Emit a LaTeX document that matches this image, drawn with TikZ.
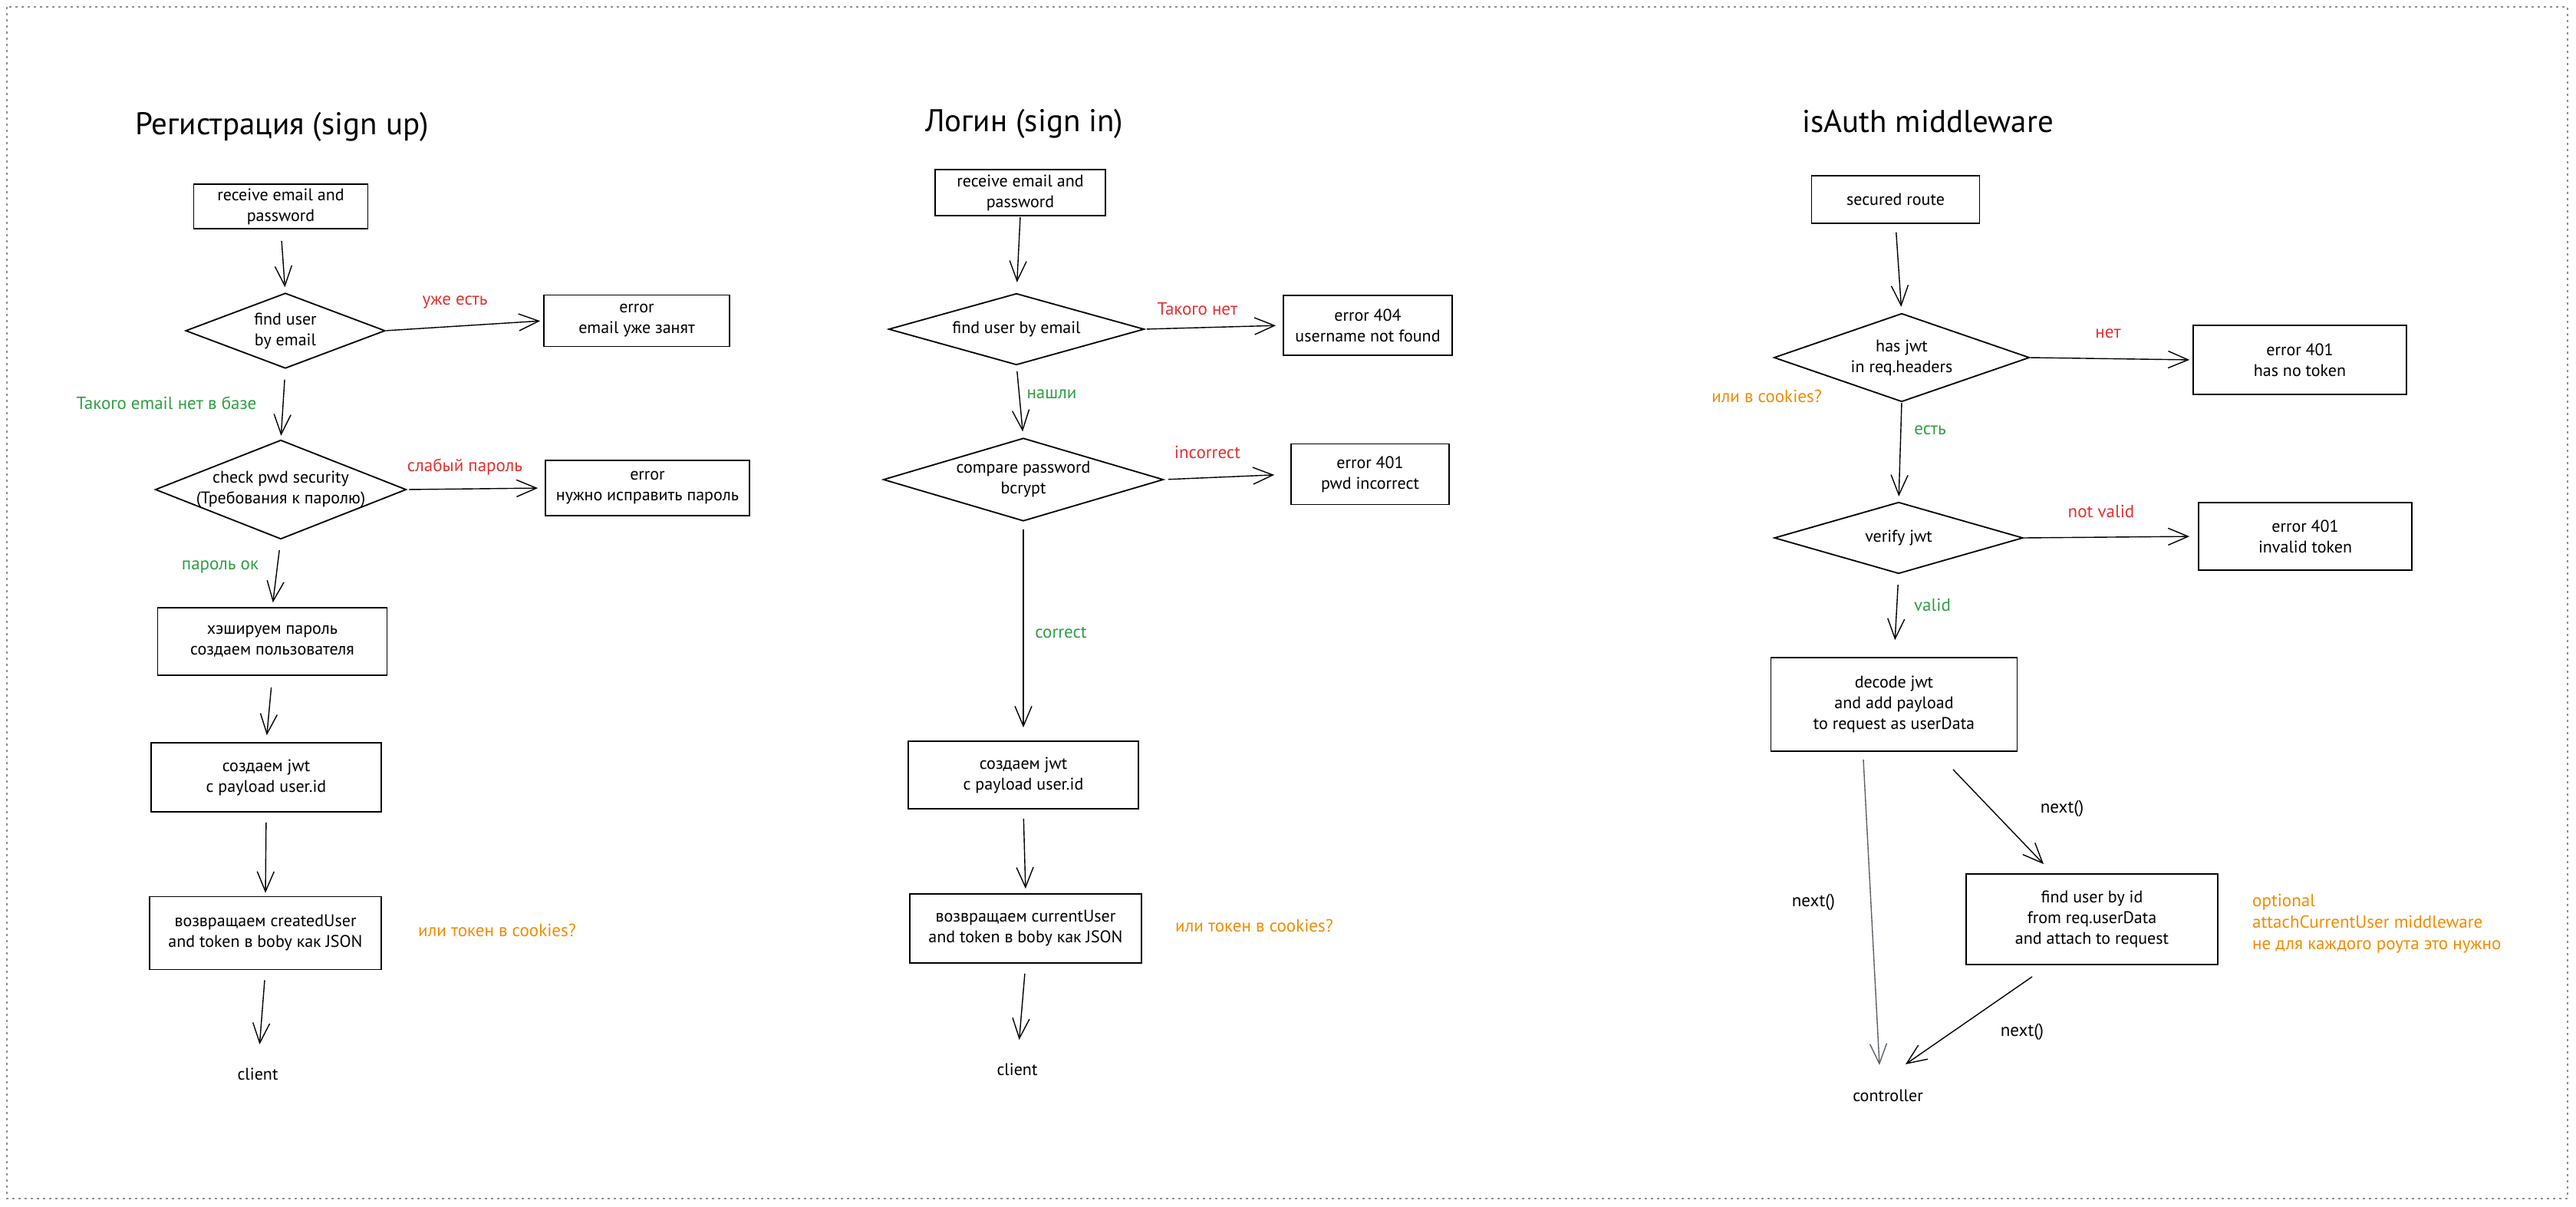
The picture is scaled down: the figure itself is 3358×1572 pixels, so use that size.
\documentclass[tikz,border=0pt]{standalone}
\usepackage{fontspec}
\setmainfont{PT Sans}
\usetikzlibrary{arrows.meta,calc}
\definecolor{inkred}{HTML}{E03131}
\definecolor{inkgreen}{HTML}{2F9E44}
\definecolor{inkorange}{HTML}{F08C00}
\definecolor{inkgrey}{HTML}{5C6066}
\definecolor{framegrey}{HTML}{8A8F96}
% outline of a decision: a rhombus through the four mid-side anchors of a node
\newcommand\diamondof[1]{\draw[outline] (#1.north) -- (#1.east) -- (#1.south) -- (#1.west) -- cycle;}
\begin{document}
\begin{tikzpicture}[x=1pt,y=-1pt,
  every node/.style={font=\fontsize{22}{27}\selectfont, align=center, inner sep=0pt, text=black},
  stepbox/.style={draw, line width=1.8pt},
  outline/.style={line width=1.8pt, line join=miter},
  title/.style={font=\fontsize{41}{48}\selectfont, anchor=west},
  lbl/.style={font=\fontsize{23}{28}\selectfont},
  bad/.style={lbl, text=inkred},
  good/.style={lbl, text=inkgreen},
  note/.style={lbl, text=inkorange},
  flow/.style={line width=1.4pt, -{Straight Barb[length=26pt,width=22pt]}},
  softflow/.style={flow, draw=inkgrey},
]
\useasboundingbox (0,0) rectangle (3358,1572);
\draw[framegrey, line width=2pt, dash pattern=on 3pt off 5pt] (9,9) rectangle (3347,1562);

% ---------------- sign up ----------------
\node[title] (t1) at (176,165) {Регистрация (sign up)};
\node[stepbox, minimum width=227, minimum height=58] (r1) at (366,269) {receive email and\\password};
\node[minimum width=259, minimum height=97] (d1) at (372,431) {find user\\by email};
\diamondof{d1}
\node[stepbox, minimum width=242, minimum height=67] (e1) at (830,418) {error\\email уже занят};
\node[minimum width=326, minimum height=128] (d2) at (366,638) {check pwd security\\(Требования к паролю)};
\diamondof{d2}
\node[stepbox, minimum width=266, minimum height=72] (e2) at (844,636) {error\\нужно исправить пароль};
\node[stepbox, minimum width=299, minimum height=88] (r2) at (355,836) {хэшируем пароль\\создаем пользователя};
\node[stepbox, minimum width=300, minimum height=90] (r3) at (347,1013) {создаем jwt\\с payload user.id};
\node[stepbox, minimum width=302, minimum height=95] (r4) at (346,1216) {возвращаем createdUser\\and token в boby как JSON};
\node (c1) at (336,1400) {client};

\node[bad] (l1) at (593,394) {уже есть};
\node[good] (l2) at (217,525) {Такого email нет в базе};
\node[bad] (l3) at (606,608) {слабый пароль};
\node[good] (l4) at (287,739) {пароль ок};
\node[note] (l5) at (648,1212) {или токен в cookies?};

\draw[flow, shorten <=15pt, shorten >=8pt] (r1.south) -- (d1.north);
\draw[flow, shorten <=2pt, shorten >=4pt] (d1.east) -- (e1.west);
\draw[flow, shorten <=15pt, shorten >=6pt] (d1.south) -- (d2.north);
\draw[flow, shorten <=4pt, shorten >=9pt] (d2.east) -- (e2.west);
\draw[flow, shorten <=15pt, shorten >=6pt] (d2.south) -- (r2.north);
\draw[flow, shorten <=15pt, shorten >=9pt] (r2.south) -- (r3.north);
\draw[flow, shorten <=13pt, shorten >=4pt] (r3.south) -- (r4.north);
\draw[flow, shorten <=13pt, shorten >=31pt] (r4.south) -- (c1.north);

% ---------------- sign in ----------------
\node[title] (t2) at (1206,161) {Логин (sign in)};
\node[stepbox, minimum width=222, minimum height=60] (s1) at (1330,251) {receive email and\\password};
\node[minimum width=332, minimum height=92] (s2) at (1325,429) {find user by email};
\diamondof{s2}
\node[stepbox, minimum width=220, minimum height=78] (s3) at (1783,424) {error 404\\username not found};
\node[minimum width=364, minimum height=107] (s4) at (1334,625) {compare password\\bcrypt};
\diamondof{s4}
\node[stepbox, minimum width=206, minimum height=79] (s5) at (1786,618) {error 401\\pwd incorrect};
\node[stepbox, minimum width=300, minimum height=88] (s6) at (1334,1010) {создаем jwt\\с payload user.id};
\node[stepbox, minimum width=302, minimum height=90] (s7) at (1337,1210) {возвращаем currentUser\\and token в boby как JSON};
\node (c2) at (1326,1394) {client};

\node[bad] (m1) at (1561,403) {Такого нет};
\node[good] (m2) at (1371,514) {нашли};
\node[bad] (m3) at (1574,589) {incorrect};
\node[good] (m4) at (1383,824) {correct};
\node[note] (m5) at (1635,1206) {или токен в cookies?};

\draw[flow, shorten <=1pt, shorten >=15pt] (s1.south) -- (s2.north);
\draw[flow, shorten <=4pt, shorten >=9pt] (s2.east) -- (s3.west);
\draw[flow, shorten <=9pt, shorten >=9pt] (s2.south) -- (s4.north);
\draw[flow, shorten <=7pt, shorten >=21pt] (s4.east) -- (s5.west);
\draw[flow, shorten <=11pt, shorten >=17pt] (s4.south) -- (s6.north);
\draw[flow, shorten <=12pt, shorten >=6pt] (s6.south) -- (s7.north);
\draw[flow, shorten <=13pt, shorten >=31pt] (s7.south) -- (c2.north);

% ---------------- isAuth middleware ----------------
\node[title] (t3) at (2349,158) {isAuth middleware};
\node[stepbox, minimum width=219, minimum height=62] (a1) at (2471,260) {secured route};
\node[minimum width=332, minimum height=114] (a2) at (2479,466) {has jwt\\in req.headers};
\diamondof{a2}
\node[stepbox, minimum width=278, minimum height=90] (a3) at (2998,469) {error 401\\has no token};
\node[minimum width=323, minimum height=92] (a4) at (2475,701) {verify jwt};
\diamondof{a4}
\node[stepbox, minimum width=278, minimum height=88] (a5) at (3005,699) {error 401\\invalid token};
\node[stepbox, minimum width=321, minimum height=122] (a6) at (2469,918) {decode jwt\\and add payload\\to request as userData};
\node[stepbox, minimum width=328, minimum height=118] (a7) at (2727,1198) {find user by id\\from req.userData\\and attach to request};
\node (ctrl) at (2461,1428) {controller};

\node[bad] (n1) at (2748,435) {нет};
\node[note] (n2) at (2303,516) {или в cookies?};
\node[good] (n3) at (2516,561) {есть};
\node[bad] (n4) at (2739,666) {not valid};
\node[good] (n5) at (2519,788) {valid};
\node[lbl] (n6) at (2364,1176) {next()};
\node[lbl] (n7) at (2688,1054) {next()};
\node[lbl] (n8) at (2636,1345) {next()};
\node[note, align=left, anchor=west] (n9) at (2936,1204) {optional\\attachCurrentUser middleware\\не для каждого роута это нужно};

\draw[flow, shorten <=11pt, shorten >=9pt] (a1.south) -- (a2.north);
\draw[flow, shorten <=2pt, shorten >=4pt] (a2.east) -- (a3.west);
\draw[flow, shorten <=2pt, shorten >=8pt] (a2.south) -- (a4.north);
\draw[flow, shorten <=2pt, shorten >=11pt] (a4.east) -- (a5.west);
\draw[flow, shorten <=15pt, shorten >=22pt] (a4.south) -- (a6.north);
\draw[softflow] ($(a6.south)+(-40,10)$) -- ($(ctrl.north)+(-11,-32)$);
\draw[flow] ($(a6.south)+(77,23)$) -- ($(a7.north)+(-63,-12)$);
\draw[flow] ($(a7.south)+(-78,15)$) -- ($(ctrl.north)+(23,-33)$);
\end{tikzpicture}
\end{document}
